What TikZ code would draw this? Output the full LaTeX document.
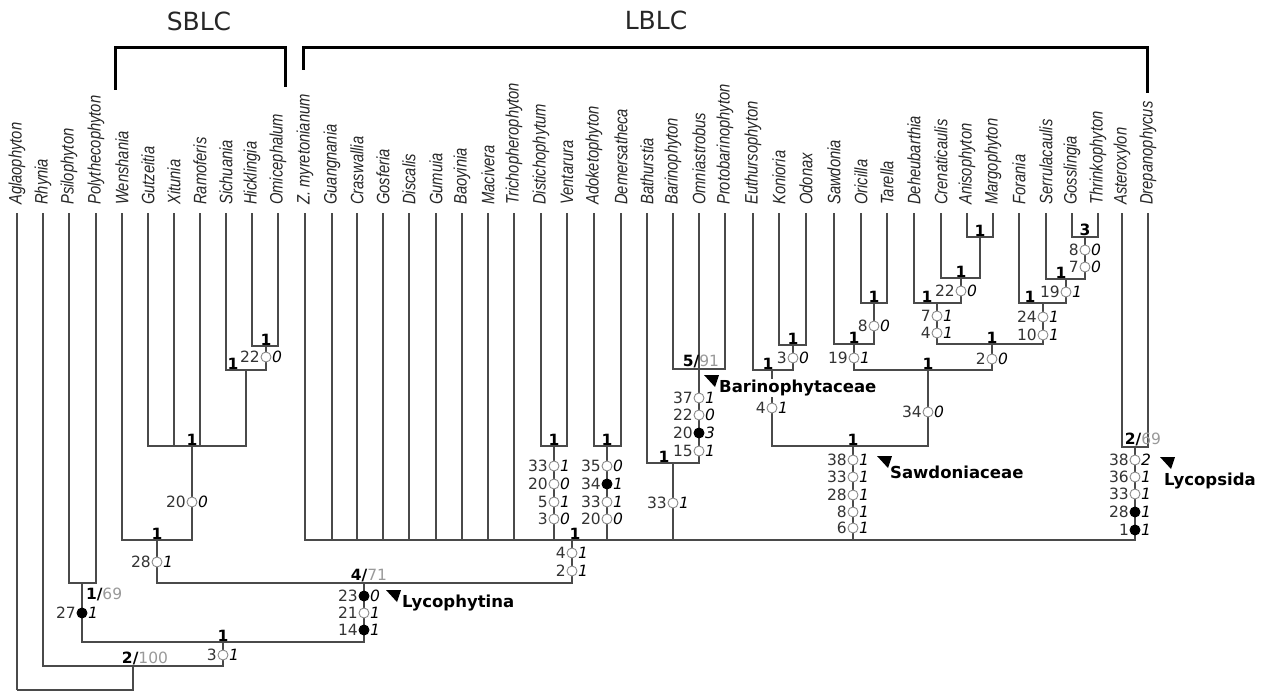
\documentclass[tikz,border=0pt]{standalone}
\usepackage{fontspec}
\setmainfont{DejaVu Sans}
\newfontfamily\taxfont{Liberation Sans}
\usepackage{graphicx}
\usepackage{tikz}
\usetikzlibrary{positioning}
\definecolor{branchgray}{HTML}{4A4A4A}
\definecolor{ringgray}{HTML}{8A8A8A}
\definecolor{bootgray}{HTML}{999999}

% character change on a branch: name, x, y, style, character, state
\newcommand{\chs}[6]{%
  \node[#4] (#1) at (#2,#3) {};
  \node[chnum,anchor=east] (#1n) at (#1.west) {#5};
  \node[chnum,anchor=west,text=black] (#1s) at (#1.east) {\textit{#6}};}

\begin{document}
\begin{tikzpicture}[x=1pt,y=-1pt,
branch/.style={draw=branchgray,line width=1.4pt},
brace/.style={draw=black,line width=3pt},
taxon/.style={rotate=90,anchor=west,inner sep=0pt,text=black!85,font=\taxfont\itshape\fontsize{18}{18}\selectfont},
charopen/.style={circle,draw=ringgray,fill=white,line width=0.9pt,minimum size=10pt,inner sep=0pt},
charshut/.style={circle,draw=black,fill=black,line width=0.9pt,minimum size=10pt,inner sep=0pt},
chnum/.style={inner sep=0.5pt,text=black!80,font=\fontsize{15.5}{16}\selectfont},
sup/.style={anchor=south,inner sep=0.8pt,font=\bfseries\fontsize{15.5}{16}\selectfont},
group/.style={anchor=west,inner sep=1pt,font=\bfseries\fontsize{16.5}{17}\selectfont},
crown/.style={text=black!85,font=\fontsize{25}{25}\selectfont}]

\useasboundingbox (0,0) rectangle (1264,693);

% taxa
\foreach \x/\name [count=\i from 0] in {17/Aglaophyton, 43/Rhynia, 69/Psilophyton, 96/Polythecophyton,
  122/Wenshania, 148/Gutzeitia, 174/Xitunia, 200/Ramoferis, 226/Sichuania, 252/Hicklingia,
  278/Omicephalum, 305/Z. myretonianum, 332/Guangnania, 357/Craswallia, 383/Gosferia,
  409/Discalis, 436/Gumuia, 462/Baoyinia, 488/Macivera, 514/Trichopherophyton,
  541/Distichophytum, 567/Ventarura, 594/Adoketophyton, 621/Demersatheca, 647/Bathurstia,
  673/Barinophyton, 699/Omniastrobus, 725/Protobarinophyton, 753/Euthursophyton,
  779/Konioria, 806/Odonax, 834/Sawdonia, 861/Oricilla, 887/Tarella, 914/Deheubarthia,
  941/Crenaticaulis, 967/Anisophyton, 993/Margophyton, 1019/Forania, 1046/Serrulacaulis,
  1072/Gosslingia, 1098/Thrinkophyton, 1122/Asteroxylon, 1148/Drepanophycus} {
  \coordinate (t\i) at (\x,213);
  \node[taxon] (l\i) at (\x,205) {\scalebox{0.82}[1]{\name}};
}

% clades
\node[crown] (sblc) at (199,21) {SBLC};
\node[crown] (lblc) at (656,20) {LBLC};
\draw[brace] (115,90) |- (285,48) -- (285,87);
\draw[brace] (303,70) |- (1147,48) -- (1147,93);

% internal nodes
\coordinate (root) at (17,690);
\coordinate (n2) at (133,666);
\coordinate (n3) at (223,642);
\coordinate (n4) at (82,583);
\coordinate (n5) at (364,583);
\coordinate (n6) at (157,540);
\coordinate (n7) at (192,446);
\coordinate (n8) at (246,370);
\coordinate (n9) at (266,346);
\coordinate (n10) at (572,540);
\coordinate (n11) at (554,446);
\coordinate (n12) at (607,446);
\coordinate (n13) at (673,463);
\coordinate (n14) at (699,369);
\coordinate (n15) at (853,446);
\coordinate (n16) at (772,370);
\coordinate (n17) at (793,345);
\coordinate (n18) at (928,370);
\coordinate (n19) at (854,344);
\coordinate (n20) at (874,303);
\coordinate (n21) at (992,344);
\coordinate (n22) at (937,303);
\coordinate (n23) at (961,278);
\coordinate (n24) at (980,237);
\coordinate (n25) at (1043,303);
\coordinate (n26) at (1066,279);
\coordinate (n27) at (1085,237);
\coordinate (n28) at (1135,447);

\foreach \p/\c in {root/t0, root/n2, n2/t1, n2/n3, n3/n4, n3/n5, n4/t2, n4/t3, n5/n6, n5/n10,
  n6/t4, n6/n7, n7/t5, n7/t6, n7/t7, n7/n8, n8/t8, n8/n9, n9/t9, n9/t10,
  n10/t11, n10/t12, n10/t13, n10/t14, n10/t15, n10/t16, n10/t17, n10/t18, n10/t19,
  n10/n11, n10/n12, n10/n13, n10/n15, n10/n28,
  n11/t20, n11/t21, n12/t22, n12/t23, n13/t24, n13/n14, n14/t25, n14/t26, n14/t27,
  n15/n16, n15/n18, n16/t28, n16/n17, n17/t29, n17/t30,
  n18/n19, n18/n21, n19/t31, n19/n20, n20/t32, n20/t33,
  n21/n22, n21/n25, n22/t34, n22/n23, n23/t35, n23/n24, n24/t36, n24/t37,
  n25/t38, n25/n26, n26/t39, n26/n27, n27/t40, n27/t41, n28/t42, n28/t43}
  \path [branch] (\p) -| (\c);

% named groups
\node[group] (lycophytina) at (401,603) {Lycophytina};
\fill (386,590) -- ++(15,0) -- ++(-4,12) -- cycle;
\node[group,fill=white] (barino) at (718,388) {Barinophytaceae};
\fill (704,375) -- ++(15,0) -- ++(-4,12) -- cycle;
\node[group] (sawdo) at (889,472) {Sawdoniaceae};
\fill (877,456) -- ++(15,0) -- ++(-4,12) -- cycle;
\node[group] (lycopsida) at (1163,481) {Lycopsida};
\fill (1160,457) -- ++(15,0) -- ++(-4,12) -- cycle;

% support
\foreach \n/\dx/\v in {n3/0/1, n6/0/1, n7/0/1, n8/-13/1, n9/0/1, n10/3/1, n11/0/1, n12/0/1,
  n13/-9/1, n15/0/1, n16/-4/1, n17/0/1, n18/0/1, n19/0/1, n20/0/1, n21/0/1, n22/-10/1,
  n23/0/1, n24/0/1, n25/-13/1, n26/-5/1, n27/0/3}
  \node[sup] (s\n) at ([xshift=\dx pt]\n) {\v};
\node[sup] (sn2) at ([xshift=12pt]n2) {2/\textcolor{bootgray}{\mdseries 100}};
\node[sup,anchor=west] (sn4) at ([shift={(3,11)}]n4) {1/\textcolor{bootgray}{\mdseries 69}};
\node[sup] (sn5) at ([xshift=5pt]n5) {4/\textcolor{bootgray}{\mdseries 71}};
\node[sup] (sn14) at ([xshift=2pt]n14) {5/\textcolor{bootgray}{\mdseries 91}};
\node[sup] (sn28) at ([xshift=8pt]n28) {2/\textcolor{bootgray}{\mdseries 69}};

% character changes
\foreach \xx/\yy/\cn/\st/\f [count=\k] in {223/655/3/1/charopen, 82/613/27/1/charshut,
  364/596/23/0/charshut, 364/613/21/1/charopen, 364/630/14/1/charshut,
  157/562/28/1/charopen, 192/502/20/0/charopen, 266/357/22/0/charopen,
  572/553/4/1/charopen, 572/571/2/1/charopen,
  554/466/33/1/charopen, 554/484/20/0/charopen, 554/502/5/1/charopen, 554/519/3/0/charopen,
  607/466/35/0/charopen, 607/484/34/1/charshut, 607/502/33/1/charopen, 607/519/20/0/charopen,
  673/503/33/1/charopen,
  699/398/37/1/charopen, 699/415/22/0/charopen, 699/433/20/3/charshut, 699/451/15/1/charopen,
  853/460/38/1/charopen, 853/477/33/1/charopen, 853/495/28/1/charopen, 853/512/8/1/charopen,
  853/528/6/1/charopen,
  772/408/4/1/charopen, 793/358/3/0/charopen, 928/412/34/0/charopen, 854/358/19/1/charopen,
  874/326/8/0/charopen, 992/359/2/0/charopen, 937/316/7/1/charopen, 937/333/4/1/charopen,
  961/291/22/0/charopen, 1043/317/24/1/charopen, 1043/335/10/1/charopen,
  1066/292/19/1/charopen, 1085/250/8/0/charopen, 1085/267/7/0/charopen,
  1135/460/38/2/charopen, 1135/477/36/1/charopen, 1135/494/33/1/charopen,
  1135/512/28/1/charshut, 1135/530/1/1/charshut}
  \chs{c\k}{\xx}{\yy}{\f}{\cn}{\st};
\end{tikzpicture}
\end{document}
